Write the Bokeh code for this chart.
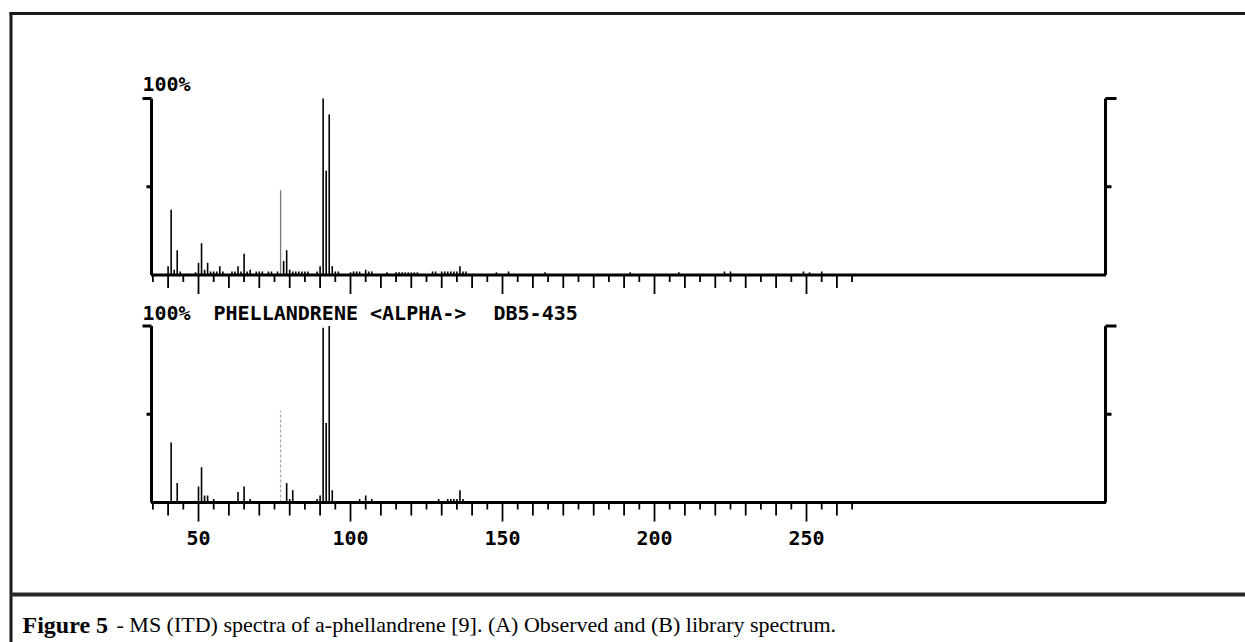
from bokeh.plotting import figure
from bokeh.models import Range1d
from bokeh.core.properties import value
from bokeh.embed import file_html
from bokeh.resources import INLINE
import numpy as np

# ---------------- data ----------------
# (A) observed spectrum: m/z and relative intensity (%)
obs_mz = [40, 41, 42, 43, 44, 49, 50, 51, 52, 53, 54, 55, 56, 57, 58, 61, 62, 63, 64,
          65, 66, 67, 69, 70, 71, 73, 74, 76, 77, 78, 79, 80, 81, 82, 83, 84, 85, 86,
          89, 90, 91, 92, 93, 94, 95, 96, 100, 101, 102, 103, 105, 106, 107, 112,
          115, 116, 117, 118, 119, 120, 121, 122, 127, 128, 130, 131, 132, 133, 134,
          135, 136, 137, 138, 148, 152, 164, 192, 208, 223, 225, 249, 251, 255]
obs_int = [5, 37, 3, 14, 2, 1.5, 7, 18, 3, 7, 2, 2, 2, 5, 2, 2, 2, 5, 2,
           12, 2, 3, 2, 2, 2, 2, 2, 2, 48, 8, 14, 3, 2, 2, 2, 2, 2, 2,
           2, 5, 100, 59, 91, 5, 2, 2, 1.5, 2, 2, 2, 3, 2, 2, 1.5,
           1.5, 1.5, 1.5, 1.5, 1.5, 1.5, 1.5, 1.5, 2, 2, 2, 2, 2, 2, 2,
           2, 5, 2, 2, 1.5, 2, 1.5, 1.5, 1.5, 2, 2, 2, 1.5, 2]

# (B) library spectrum
lib_mz = [41, 43, 50, 51, 52, 53, 55, 63, 65, 67, 77, 79, 80, 81, 89, 90, 91, 92, 93,
          94, 103, 105, 107, 129, 132, 133, 134, 135, 136, 137]
lib_int = [34, 11, 9, 20, 4, 4, 2, 6, 9, 2, 52, 11, 2, 7, 2, 4, 99, 45, 100,
           7, 2, 4, 2, 2, 2, 2, 2, 2, 7, 2]

# axis ticks (m/z) and labels
tick_mz = list(range(35, 266, 5))
label_mz = [50, 100, 150, 200, 250]
label_text = ["50", "100", "150", "200", "250"]
title_text = ["100%", "PHELLANDRENE <ALPHA->", "DB5-435"]
caption_bold = "Figure 5"
caption_rest = "- MS (ITD) spectra of a-phellandrene [9]. (A) Observed and (B) library spectrum."

# ---------------- layout constants ----------------
W, H = 1245, 642
PX_PER_MZ = 3.04          # pixels per m/z unit
X50 = 198.0               # pixel column of m/z 50
PX_PER_PCT = 1.765        # pixels per % intensity
TOP_BASE = 274.5          # pixel row of the top panel baseline
BOT_BASE = 502.0          # pixel row of the bottom panel baseline
AX_LEFT = 50 - (X50 - 151) / PX_PER_MZ
AX_RIGHT = 50 + (1105 - X50) / PX_PER_MZ

xs = 50 - X50 / PX_PER_MZ
xe = xs + W / PX_PER_MZ


def yrange(base):
    s = -(H - base) / PX_PER_PCT
    return Range1d(s, s + H / PX_PER_PCT)


p = figure(width=W, height=H, x_range=Range1d(xs, xe), y_range=yrange(TOP_BASE),
           x_axis_type=None, y_axis_type=None, toolbar_location=None,
           output_backend="svg", min_border=0, outline_line_color=None,
           background_fill_color="white", border_fill_color="white")
p.extra_x_ranges = {"px": Range1d(0, W)}
p.extra_y_ranges = {"px": Range1d(H, 0), "bot": yrange(BOT_BASE)}

mz_px = 1.0 / PX_PER_MZ
pct_px = 1.0 / PX_PER_PCT


def panel(rng, mz, inten):
    kw = {} if rng == "default" else {"y_range_name": rng}
    mz = np.asarray(mz, float)
    inten = np.asarray(inten, float)
    dotted = mz == 77
    # spectrum bars
    p.segment(x0=mz[~dotted], y0=0, x1=mz[~dotted], y1=inten[~dotted],
              line_color="black", line_width=1.6, **kw)
    p.segment(x0=mz[dotted], y0=0, x1=mz[dotted], y1=inten[dotted],
              line_color="#777777" if rng == "default" else "#aaaaaa",
              line_width=1.3, line_dash="solid" if rng == "default" else "3 2", **kw)
    # x ticks below baseline
    t = np.asarray(tick_mz, float)
    length = np.where(t % 50 == 0, 19, np.where(t % 10 == 0, 13, 7)) * pct_px
    p.segment(x0=t, y0=0, x1=t, y1=-length, line_color="black", line_width=1.8, **kw)
    # baseline and vertical axes
    p.segment(x0=[AX_LEFT - 0.5 * mz_px], y0=[0], x1=[AX_RIGHT + 0.5 * mz_px], y1=[0],
              line_color="black", line_width=3.2, **kw)
    p.segment(x0=[AX_LEFT, AX_RIGHT], y0=[0, 0], x1=[AX_LEFT, AX_RIGHT], y1=[100, 100],
              line_color="black", line_width=3, **kw)
    # caps and 50% ticks
    p.segment(x0=[AX_LEFT, AX_LEFT, AX_RIGHT, AX_RIGHT],
              y0=[100, 50, 100, 50],
              x1=[AX_LEFT - 9 * mz_px, AX_LEFT - 5 * mz_px, AX_RIGHT + 11 * mz_px, AX_RIGHT + 6 * mz_px],
              y1=[100, 50, 100, 50],
              line_color="black", line_width=3, **kw)


panel("default", obs_mz, obs_int)
panel("bot", lib_mz, lib_int)

mono = value("DejaVu Sans Mono")

# tick labels of the bottom panel
p.text(x=label_mz, y=[-20] * len(label_mz), text=label_text, y_range_name="bot",
       text_font=mono, text_font_style="bold", text_font_size="20px",
       text_align="center", text_baseline="middle", text_color="black")

# panel titles
p.text(x=[142], y=[83], text=[title_text[0]], x_range_name="px", y_range_name="px",
       text_font=mono, text_font_style="bold", text_font_size="20px",
       text_baseline="middle", text_color="black")
p.text(x=[142, 213, 493], y=[312, 312, 312], text=title_text, x_range_name="px", y_range_name="px",
       text_font=mono, text_font_style="bold", text_font_size="20px",
       text_baseline="middle", text_color="black")

# outer frame and caption separator
p.segment(x0=[9, 10.5, 10], y0=[13, 12, 594], x1=[W, 10.5, W], y1=[13, H, 594],
          line_color=["#1a1a1a", "#1a1a1a", "#2a2a2a"], line_width=[3, 3, 4],
          x_range_name="px", y_range_name="px")

# caption
serif = value("Liberation Serif")
p.text(x=[22], y=[624], text=[caption_bold], x_range_name="px", y_range_name="px",
       text_font=serif, text_font_style="bold", text_font_size="24px",
       text_baseline="middle", text_color="black")
p.text(x=[116], y=[624], text=[caption_rest], x_range_name="px", y_range_name="px",
       text_font=serif, text_font_style="normal", text_font_size="22px",
       text_baseline="middle", text_color="black")

open("out.html", "w").write(file_html(p, INLINE))
